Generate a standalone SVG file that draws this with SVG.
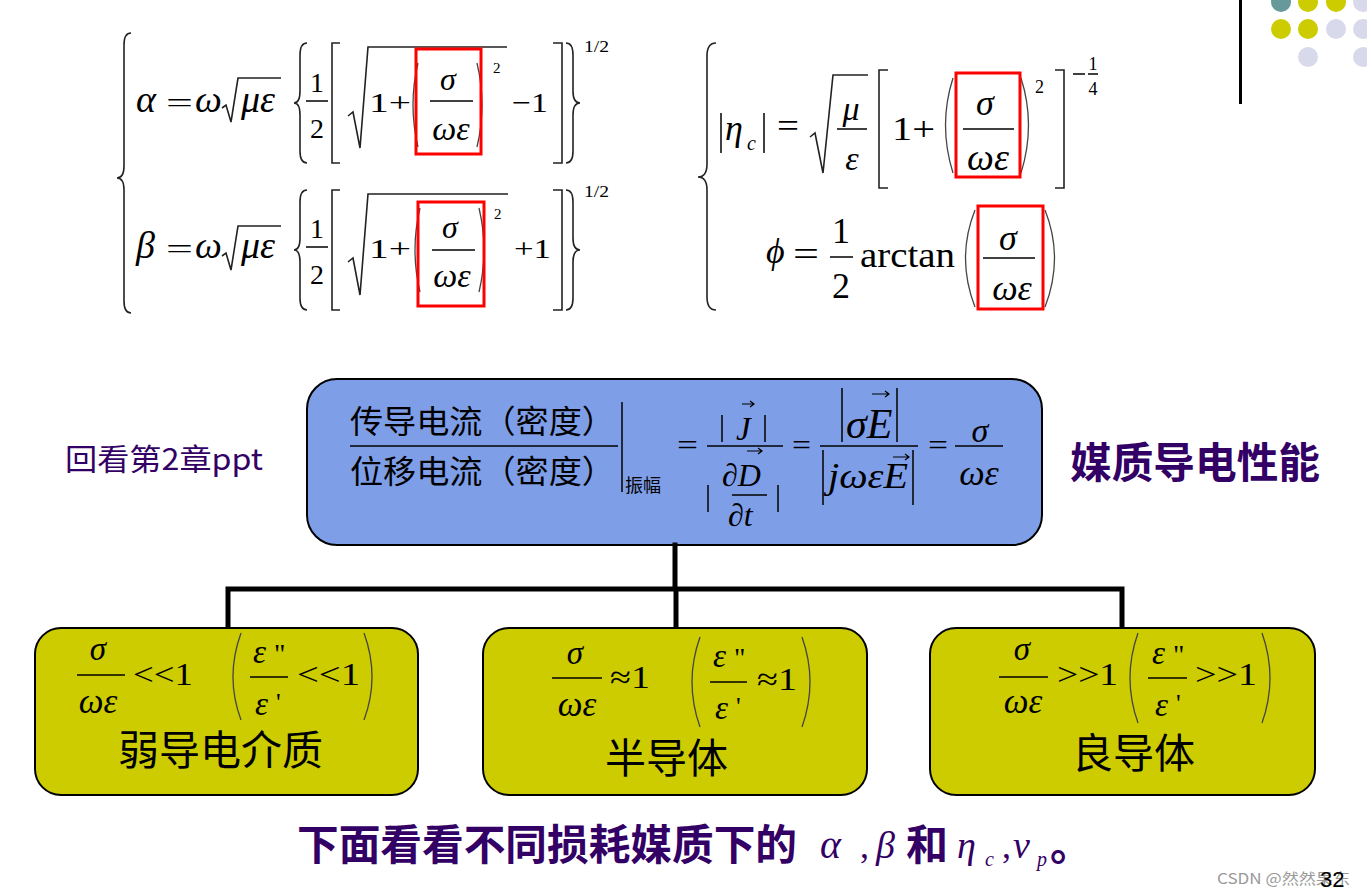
<svg xmlns="http://www.w3.org/2000/svg" width="1367" height="895" viewBox="0 0 1367 895">
<style>
.m{font-family:"Liberation Serif","DejaVu Serif",serif;fill:#000}
.i{font-style:italic}
.d{fill:none;stroke:#222;stroke-width:1.6;stroke-linejoin:miter}
.p{fill:none;stroke:#444;stroke-width:1.3}
.b{stroke:#000;stroke-width:1.5}
.rb{fill:none;stroke:#ff0000;stroke-width:3}
.cj{font-family:"Noto Sans CJK SC","Noto Sans",sans-serif}
.pu{fill:#330066}
.ybox{fill:#cccc00;stroke:#000;stroke-width:2}
.con{stroke:#000;stroke-width:5;fill:none;stroke-linecap:square}
.va{fill:none;stroke:#000;stroke-width:1.2}
</style>
<rect width="1367" height="895" fill="#fff"/>

<g id="decoration">
<line x1="1240.5" y1="0" x2="1240.5" y2="104" stroke="#000" stroke-width="3"/>
<circle cx="1281" cy="2" r="10" fill="#669999"/>
<circle cx="1308" cy="2" r="10" fill="#cccc00"/>
<circle cx="1336" cy="2" r="10" fill="#cccc00"/>
<circle cx="1363" cy="2" r="10" fill="#d9d9ec"/>
<circle cx="1281" cy="29" r="10" fill="#cccc00"/>
<circle cx="1308" cy="29" r="10" fill="#cccc00"/>
<circle cx="1336" cy="29" r="10" fill="#d9d9ec"/>
<circle cx="1363" cy="29" r="10" fill="#d9d9ec"/>
<circle cx="1308" cy="57" r="10" fill="#d9d9ec"/>
<circle cx="1363" cy="57" r="10" fill="#d9d9ec"/>
</g>

<g id="formula-alpha-beta">
<path class="d" d="M131,33 Q124,33 124,45 L124,166 Q124,178 117,178 Q124,178 124,190 L124,301 Q124,313 131,313"/>
<!-- alpha line -->
<text class="m i" x="136" y="112" font-size="38">α</text>
<text class="m" x="166" y="112" font-size="28" textLength="27" lengthAdjust="spacingAndGlyphs">=</text>
<text class="m i" x="195" y="112" font-size="38">ω</text>
<path class="d" d="M222,108 L226,105 L231,122 L238,78 L281,78"/>
<text class="m i" x="241" y="112" font-size="38">με</text>
<path class="d" d="M307,43 Q300,43 300,55 L300,91 Q300,103 294,103 Q300,103 300,115 L300,151 Q300,163 307,163"/>
<text class="m" x="317" y="92" font-size="28" text-anchor="middle">1</text>
<line class="b" x1="306" y1="101" x2="328" y2="101"/>
<text class="m" x="317" y="138" font-size="28" text-anchor="middle">2</text>
<path class="d" d="M340,43 L332,43 L332,163 L340,163"/>
<path class="d" stroke-width="2" d="M348,116 L353,112 L360,148 L368,47 L507,47"/>
<text class="m" x="369" y="112" font-size="28" textLength="42" lengthAdjust="spacingAndGlyphs">1+</text>
<path class="p" d="M418,63 Q408,105 418,147"/>
<text class="m i" x="448" y="90" font-size="32" text-anchor="middle">σ</text>
<line class="b" x1="430" y1="101" x2="473" y2="101"/>
<text class="m i" x="451" y="140" font-size="34" text-anchor="middle">ωε</text>
<path class="p" d="M477,63 Q487,105 477,147"/>
<rect class="rb" x="416" y="49" width="65" height="105"/>
<text class="m" x="493" y="73" font-size="15">2</text>
<text class="m" x="512" y="112" font-size="28" textLength="36" lengthAdjust="spacingAndGlyphs">−1</text>
<path class="d" d="M553,43 L562,43 L562,163 L553,163"/>
<path class="d" d="M566,43 Q573,43 573,55 L573,91 Q573,103 580,103 Q573,103 573,115 L573,151 Q573,163 566,163"/>
<text class="m" x="584" y="52" font-size="16" textLength="25" lengthAdjust="spacingAndGlyphs">1/2</text>
<!-- beta line -->
<text class="m i" x="136" y="258" font-size="38">β</text>
<text class="m" x="166" y="258" font-size="28" textLength="27" lengthAdjust="spacingAndGlyphs">=</text>
<text class="m i" x="195" y="258" font-size="38">ω</text>
<path class="d" d="M222,256 L226,253 L231,270 L238,226 L281,226"/>
<text class="m i" x="241" y="258" font-size="38">με</text>
<path class="d" d="M307,190 Q300,190 300,202 L300,238 Q300,250 294,250 Q300,250 300,262 L300,298 Q300,310 307,310"/>
<text class="m" x="317" y="238" font-size="28" text-anchor="middle">1</text>
<line class="b" x1="306" y1="247" x2="328" y2="247"/>
<text class="m" x="317" y="284" font-size="28" text-anchor="middle">2</text>
<path class="d" d="M340,190 L332,190 L332,310 L340,310"/>
<path class="d" stroke-width="2" d="M348,262 L353,258 L360,295 L368,194 L508,194"/>
<text class="m" x="369" y="258" font-size="28" textLength="42" lengthAdjust="spacingAndGlyphs">1+</text>
<path class="p" d="M420,208 Q410,250 420,292"/>
<text class="m i" x="450" y="238" font-size="32" text-anchor="middle">σ</text>
<line class="b" x1="432" y1="250" x2="475" y2="250"/>
<text class="m i" x="452" y="287" font-size="34" text-anchor="middle">ωε</text>
<path class="p" d="M479,208 Q489,250 479,292"/>
<rect class="rb" x="418" y="202" width="66" height="104"/>
<text class="m" x="494" y="219" font-size="15">2</text>
<text class="m" x="514" y="258" font-size="28" textLength="37" lengthAdjust="spacingAndGlyphs">+1</text>
<path class="d" d="M553,190 L562,190 L562,310 L553,310"/>
<path class="d" d="M566,190 Q573,190 573,202 L573,238 Q573,250 580,250 Q573,250 573,262 L573,298 Q573,310 566,310"/>
<text class="m" x="584" y="197" font-size="16" textLength="25" lengthAdjust="spacingAndGlyphs">1/2</text>
</g>

<g id="formula-eta-phi">
<path class="d" d="M716,43 Q707,43 707,56 L707,164 Q707,177 698,177 Q707,177 707,190 L707,297 Q707,310 716,310"/>
<!-- eta line -->
<line class="b" x1="721" y1="113" x2="721" y2="153" stroke-width="2"/>
<text class="m i" x="725" y="140" font-size="36">η</text>
<text class="m i" x="747" y="150" font-size="20">c</text>
<line class="b" x1="764" y1="113" x2="764" y2="153" stroke-width="2"/>
<text class="m" x="777" y="137" font-size="34" textLength="22" lengthAdjust="spacingAndGlyphs">=</text>
<path class="d" stroke-width="2" d="M810,137 L815,133 L823,173 L833,75 L868,75"/>
<text class="m i" x="851" y="120" font-size="34" text-anchor="middle">μ</text>
<line class="b" x1="837" y1="129" x2="867" y2="129"/>
<text class="m i" x="852" y="170" font-size="34" text-anchor="middle">ε</text>
<path class="d" d="M888,70 L879,70 L879,188 L888,188"/>
<text class="m" x="892" y="140" font-size="34" textLength="43" lengthAdjust="spacingAndGlyphs">1+</text>
<path class="p" d="M953,78 Q938,125 953,173"/>
<text class="m i" x="985" y="115" font-size="36" text-anchor="middle">σ</text>
<line class="b" x1="963" y1="129" x2="1014" y2="129"/>
<text class="m i" x="988" y="170" font-size="38" text-anchor="middle">ωε</text>
<path class="p" d="M1021,78 Q1036,125 1021,173"/>
<rect class="rb" x="956" y="73" width="64" height="104"/>
<text class="m" x="1035" y="93" font-size="18">2</text>
<path class="d" d="M1055,70 L1064,70 L1064,188 L1055,188"/>
<line class="b" x1="1073" y1="74" x2="1085" y2="74" stroke-width="1.2"/>
<text class="m" x="1093" y="70" font-size="18" text-anchor="middle">1</text>
<line class="b" x1="1088" y1="74" x2="1098" y2="74" stroke-width="1.2"/>
<text class="m" x="1093" y="95" font-size="18" text-anchor="middle">4</text>
<!-- phi line -->
<text class="m i" x="766" y="263" font-size="36">ϕ</text>
<text class="m" x="793" y="266" font-size="36" textLength="26" lengthAdjust="spacingAndGlyphs">=</text>
<text class="m" x="841" y="243" font-size="36" text-anchor="middle">1</text>
<line class="b" x1="830" y1="257" x2="853" y2="257"/>
<text class="m" x="841" y="298" font-size="36" text-anchor="middle">2</text>
<text class="m" x="860" y="267" font-size="36" textLength="95" lengthAdjust="spacingAndGlyphs">arctan</text>
<path class="p" d="M975,210 Q956,258 975,307"/>
<text class="m i" x="1008" y="250" font-size="36" text-anchor="middle">σ</text>
<line class="b" x1="983" y1="258" x2="1035" y2="258"/>
<text class="m i" x="1012" y="300" font-size="36" text-anchor="middle">ωε</text>
<path class="p" d="M1045,210 Q1064,258 1045,307"/>
<rect class="rb" x="978" y="206" width="65" height="103"/>
</g>

<g id="note-left">
<text class="cj pu" x="65" y="470" font-size="30" textLength="198" lengthAdjust="spacingAndGlyphs">回看第2章ppt</text>
</g>

<g id="node-ratio">
<rect x="307" y="379" width="735" height="166" rx="30" fill="#7f9ee8" stroke="#000" stroke-width="2"/>
<text class="cj" x="350" y="433" font-size="32" textLength="265" lengthAdjust="spacingAndGlyphs" fill="#000">传导电流（密度）</text>
<line class="b" x1="350" y1="446" x2="618" y2="446" stroke-width="2"/>
<text class="cj" x="350" y="483" font-size="32" textLength="265" lengthAdjust="spacingAndGlyphs" fill="#000">位移电流（密度）</text>
<line class="b" x1="622" y1="402" x2="622" y2="492" stroke-width="2"/>
<text class="cj" x="625" y="492" font-size="18" fill="#000">振幅</text>
<text class="m" x="677" y="455" font-size="30" textLength="21" lengthAdjust="spacingAndGlyphs">=</text>
<!-- |J|/|dD/dt| -->
<line class="b" x1="722" y1="415" x2="722" y2="442"/>
<text class="m i" x="736" y="440" font-size="33">J</text>
<path class="va" d="M742,404 H754 M750,401 L754,404 L750,407"/>
<line class="b" x1="765" y1="415" x2="765" y2="442"/>
<line class="b" x1="707" y1="446" x2="783" y2="446"/>
<text class="m i" x="722" y="486" font-size="32">∂D</text>
<path class="va" d="M747,451 H762 M758,448 L762,451 L758,454"/>
<line class="b" x1="708" y1="485" x2="708" y2="512"/>
<line class="b" x1="732" y1="495" x2="767" y2="495"/>
<line class="b" x1="778" y1="485" x2="778" y2="512"/>
<text class="m i" x="728" y="526" font-size="32">∂t</text>
<text class="m" x="792" y="455" font-size="30" textLength="19" lengthAdjust="spacingAndGlyphs">=</text>
<!-- |σE|/|jωεE| -->
<line class="b" x1="842" y1="388" x2="842" y2="442" stroke-width="2"/>
<text class="m i" x="846" y="438" font-size="42">σE</text>
<path class="va" d="M872,394 H889 M885,391 L889,394 L885,397"/>
<line class="b" x1="897" y1="388" x2="897" y2="442" stroke-width="2"/>
<line class="b" x1="820" y1="446" x2="918" y2="446"/>
<line class="b" x1="823" y1="450" x2="823" y2="505" stroke-width="2"/>
<text class="m i" x="828" y="488" font-size="36" textLength="80" lengthAdjust="spacingAndGlyphs">jωεE</text>
<path class="va" d="M893,457 H909 M905,454 L909,457 L905,460"/>
<line class="b" x1="913" y1="450" x2="913" y2="505" stroke-width="2"/>
<text class="m" x="928" y="455" font-size="30" textLength="20" lengthAdjust="spacingAndGlyphs">=</text>
<text class="m i" x="980" y="442" font-size="34" text-anchor="middle">σ</text>
<line class="b" x1="955" y1="446" x2="1003" y2="446"/>
<text class="m i" x="979" y="485" font-size="36" text-anchor="middle">ωε</text>
</g>

<g id="note-right">
<text class="cj pu" x="1070" y="478" font-size="42" font-weight="bold" textLength="250" lengthAdjust="spacingAndGlyphs">媒质导电性能</text>
</g>

<g id="connectors">
<path class="con" d="M675,545 V589 M228,589 H1122 M228,589 V627 M676,589 V627 M1122,589 V627"/>
</g>

<g id="node-weak">
<rect class="ybox" x="35" y="628" width="383" height="167" rx="26"/>
<text class="m i" x="98" y="660" font-size="33" text-anchor="middle">σ</text>
<line class="b" x1="77" y1="675" x2="125" y2="675"/>
<text class="m i" x="98" y="713" font-size="35" text-anchor="middle">ωε</text>
<text class="m" x="133" y="685" font-size="32" textLength="60" lengthAdjust="spacingAndGlyphs">&lt;&lt;1</text>
<path class="p" d="M241,633 Q225,677 241,720"/>
<text class="m i" x="253" y="663" font-size="33">ε</text>
<text class="m" x="274" y="663" font-size="28">"</text>
<line class="b" x1="250" y1="677" x2="288" y2="677"/>
<text class="m i" x="255" y="715" font-size="33">ε</text>
<text class="m" x="276" y="711" font-size="26">'</text>
<text class="m" x="297" y="685" font-size="32" textLength="63" lengthAdjust="spacingAndGlyphs">&lt;&lt;1</text>
<path class="p" d="M364,633 Q380,677 364,720"/>
<text class="cj" x="118" y="765" font-size="41" textLength="205" lengthAdjust="spacingAndGlyphs" fill="#000">弱导电介质</text>
</g>

<g id="node-semi">
<rect class="ybox" x="483" y="628" width="384" height="167" rx="26"/>
<text class="m i" x="575" y="664" font-size="33" text-anchor="middle">σ</text>
<line class="b" x1="552" y1="678" x2="602" y2="678"/>
<text class="m i" x="577" y="716" font-size="35" text-anchor="middle">ωε</text>
<text class="m" x="610" y="688" font-size="32" textLength="40" lengthAdjust="spacingAndGlyphs">≈1</text>
<path class="p" d="M700,637 Q684,682 700,727"/>
<text class="m i" x="713" y="667" font-size="33">ε</text>
<text class="m" x="734" y="667" font-size="28">"</text>
<line class="b" x1="710" y1="682" x2="747" y2="682"/>
<text class="m i" x="715" y="719" font-size="33">ε</text>
<text class="m" x="736" y="715" font-size="26">'</text>
<text class="m" x="757" y="690" font-size="32" textLength="40" lengthAdjust="spacingAndGlyphs">≈1</text>
<path class="p" d="M802,637 Q818,682 802,727"/>
<text class="cj" x="605" y="773" font-size="41" textLength="123" lengthAdjust="spacingAndGlyphs" fill="#000">半导体</text>
</g>

<g id="node-good">
<rect class="ybox" x="930" y="628" width="385" height="167" rx="26"/>
<text class="m i" x="1022" y="660" font-size="33" text-anchor="middle">σ</text>
<line class="b" x1="999" y1="677" x2="1048" y2="677"/>
<text class="m i" x="1023" y="713" font-size="35" text-anchor="middle">ωε</text>
<text class="m" x="1057" y="685" font-size="32" textLength="61" lengthAdjust="spacingAndGlyphs">&gt;&gt;1</text>
<path class="p" d="M1138,633 Q1122,678 1138,723"/>
<text class="m i" x="1152" y="664" font-size="33">ε</text>
<text class="m" x="1173" y="664" font-size="28">"</text>
<line class="b" x1="1148" y1="678" x2="1187" y2="678"/>
<text class="m i" x="1155" y="716" font-size="33">ε</text>
<text class="m" x="1176" y="712" font-size="26">'</text>
<text class="m" x="1195" y="685" font-size="32" textLength="62" lengthAdjust="spacingAndGlyphs">&gt;&gt;1</text>
<path class="p" d="M1262,633 Q1278,678 1262,723"/>
<text class="cj" x="1072" y="768" font-size="41" textLength="123" lengthAdjust="spacingAndGlyphs" fill="#000">良导体</text>
</g>

<g id="caption">
<text class="cj pu" x="297" y="860" font-size="42" font-weight="bold" textLength="500" lengthAdjust="spacingAndGlyphs">下面看看不同损耗媒质下的</text>
<text class="m i pu" x="820" y="858" font-size="40">α</text>
<text class="m pu" x="860" y="858" font-size="36">,</text>
<text class="m i pu" x="876" y="858" font-size="38">β</text>
<text class="cj pu" x="906" y="860" font-size="42" font-weight="bold">和</text>
<text class="m i pu" x="957" y="858" font-size="38">η</text>
<text class="m i pu" x="985" y="866" font-size="20">c</text>
<text class="m pu" x="1002" y="858" font-size="36">,</text>
<text class="m i pu" x="1013" y="858" font-size="38">v</text>
<text class="m i pu" x="1037" y="866" font-size="20">p</text>
<text class="cj pu" x="1050" y="860" font-size="42" font-weight="bold">。</text>
</g>

<g id="footer">
<text class="cj" x="1217" y="884" font-size="15" fill="#999" textLength="133" lengthAdjust="spacingAndGlyphs">CSDN @然然果东</text>
<text font-family="Liberation Sans,sans-serif" x="1320" y="887" font-size="22" fill="#000">32</text>
</g>
</svg>
